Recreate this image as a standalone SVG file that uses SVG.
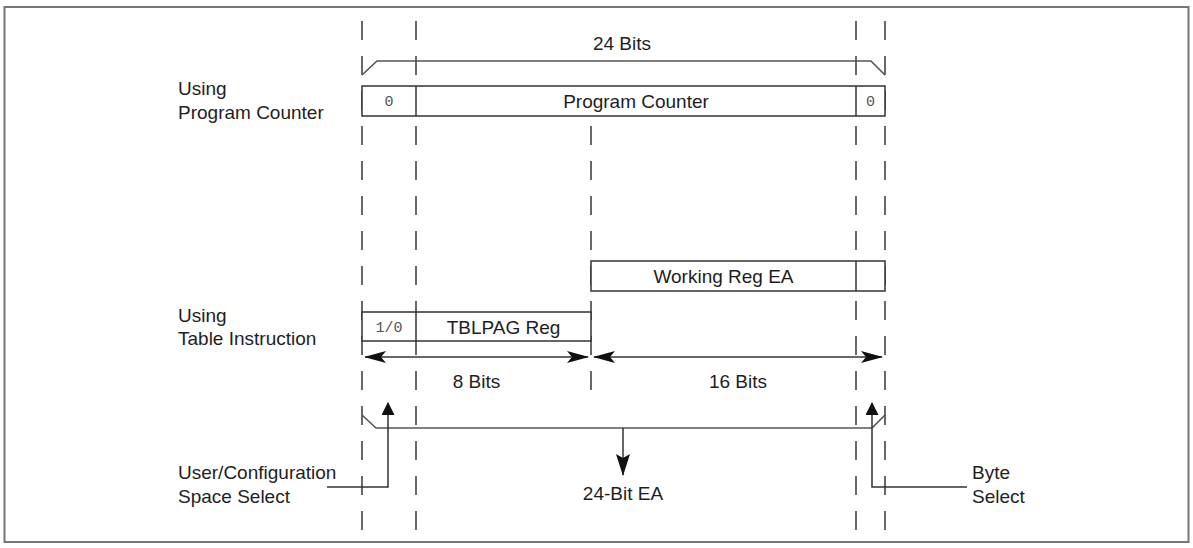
<svg xmlns="http://www.w3.org/2000/svg" width="1193" height="548" viewBox="0 0 1193 548">
<style>
.t{font-family:"Liberation Sans",Arial,sans-serif;font-size:19px;fill:#1e1e1e}
.m{font-family:"Liberation Mono","Courier New",monospace;font-size:15px;fill:#555}
.c{text-anchor:middle}
.box{fill:#fff;stroke:#333;stroke-width:1.5}
.ln{fill:none;stroke:#333;stroke-width:1.5}
.br{fill:none;stroke:#555;stroke-width:1.6}
.dash{fill:none;stroke:#444;stroke-width:1.6;stroke-dasharray:19 16}
</style>
<defs>
<marker id="ah" markerUnits="userSpaceOnUse" viewBox="0 0 22 12" markerWidth="22" markerHeight="12" refX="21" refY="6" orient="auto-start-reverse"><path d="M0,0 L22,6 L0,12 L5,6 z" fill="#111"/></marker>
<marker id="ahd" markerUnits="userSpaceOnUse" viewBox="0 0 22 14" markerWidth="22" markerHeight="14" refX="21" refY="7" orient="auto"><path d="M0,0 L22,7 L0,14 L4,7 z" fill="#111"/></marker>
<marker id="ahs" markerUnits="userSpaceOnUse" viewBox="0 0 13 13" markerWidth="13" markerHeight="13" refX="12" refY="6.5" orient="auto"><path d="M0,0 L13,6.5 L0,13 z" fill="#111"/></marker>
</defs>
<rect x="0" y="0" width="1193" height="548" fill="#fff"/>
<rect x="4.5" y="7" width="1184" height="535" fill="none" stroke="#777" stroke-width="2"/>

<g id="guides">
<line class="dash" x1="362" y1="21" x2="362" y2="535"/>
<line class="dash" x1="416" y1="21" x2="416" y2="535"/>
<line class="dash" x1="591" y1="126" x2="591" y2="390"/>
<line class="dash" x1="856" y1="21" x2="856" y2="535"/>
<line class="dash" x1="885" y1="21" x2="885" y2="535"/>
</g>

<text class="t c" x="622" y="50">24 Bits</text>

<g id="label-pc">
<text class="t" x="178" y="95">Using</text>
<text class="t" x="178" y="119">Program Counter</text>
</g>
<g id="reg-pc">
<rect class="box" x="362" y="86" width="523" height="30"/>
<line class="ln" x1="416" y1="86" x2="416" y2="116"/>
<line class="ln" x1="856" y1="86" x2="856" y2="116"/>
<text class="m c" x="389" y="106">0</text>
<text class="t c" x="636" y="108">Program Counter</text>
<text class="m c" x="870.5" y="106">0</text>
</g>

<g id="reg-wreg">
<rect class="box" x="591" y="261" width="294" height="30"/>
<line class="ln" x1="856" y1="261" x2="856" y2="291"/>
<text class="t c" x="723.5" y="283">Working Reg EA</text>
</g>

<g id="label-table">
<text class="t" x="178" y="322">Using</text>
<text class="t" x="178" y="345">Table Instruction</text>
</g>
<g id="reg-tblpag">
<rect class="box" x="362" y="312" width="229" height="29"/>
<line class="ln" x1="416" y1="312" x2="416" y2="341"/>
<text class="m c" x="389" y="332">1/0</text>
<text class="t c" x="503.5" y="334">TBLPAG Reg</text>
</g>

<g id="connectors">
<polyline class="br" points="362,75 377,61 871,61 885,75"/>
<polyline class="br" points="362,415 376,428 872,428 885,415"/>
<line class="ln" x1="365" y1="357" x2="588" y2="357" marker-start="url(#ah)" marker-end="url(#ah)"/>
<line class="ln" x1="594" y1="357" x2="882" y2="357" marker-start="url(#ah)" marker-end="url(#ah)"/>
<line class="ln" x1="623" y1="428" x2="623" y2="475" marker-end="url(#ahd)"/>
<polyline class="ln" points="327,487 388,487 388,403" marker-end="url(#ahs)"/>
<polyline class="ln" points="967,487 872,487 872,403" marker-end="url(#ahs)"/>
</g>

<g id="bits-labels">
<text class="t c" x="476.5" y="388">8 Bits</text>
<text class="t c" x="738" y="388">16 Bits</text>
<text class="t c" x="623" y="500">24-Bit EA</text>
</g>
<g id="label-user">
<text class="t" x="178" y="479">User/Configuration</text>
<text class="t" x="178" y="503">Space Select</text>
</g>
<g id="label-byte">
<text class="t" x="972" y="479">Byte</text>
<text class="t" x="972" y="503">Select</text>
</g>
</svg>
